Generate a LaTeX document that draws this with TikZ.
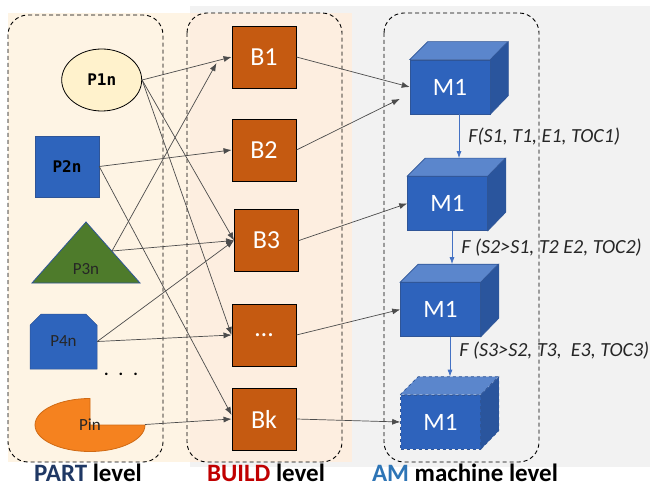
\documentclass[tikz,border=0pt]{standalone}
\usepackage{fontspec}
\setmainfont{Carlito}
\newfontfamily\monofont{DejaVu Sans Mono}
\usepackage{tikz}
\usetikzlibrary{arrows.meta,shapes.geometric,shapes.misc}
\usepackage{xcolor}
\definecolor{partbg}{HTML}{FEF4E4}
\definecolor{buildbg}{HTML}{FDEEE0}
\definecolor{ambg}{HTML}{F2F2F2}
\definecolor{ovalfill}{HTML}{FFF2CC}
\definecolor{partblue}{HTML}{2E64BC}
\definecolor{edgeblue}{HTML}{2F5597}
\definecolor{partgreen}{HTML}{4E7B2B}
\definecolor{pinfill}{HTML}{F5821F}
\definecolor{pinedge}{HTML}{D06A14}
\definecolor{buildfill}{HTML}{C55A11}
\definecolor{cubefront}{HTML}{2E63BC}
\definecolor{cubetop}{HTML}{5B86CC}
\definecolor{cubeside}{HTML}{2A559D}
\definecolor{flowblue}{HTML}{4472C4}
\definecolor{partnavy}{HTML}{1F3864}
\definecolor{buildred}{HTML}{C00000}
\definecolor{amblue}{HTML}{2E75B6}

\begin{document}
\begin{tikzpicture}[x=1pt,y=-1pt,>={Latex[length=8pt,width=6pt]},
  link/.style={draw=black!70,line width=0.7pt,->},
  levelbox/.style={draw,line width=0.9pt,dash pattern=on 4pt off 3pt,rounded corners=20pt},
  parttext/.style={text=black!85,font=\fontsize{17}{20}\selectfont},
  partbold/.style={text=black,font=\monofont\bfseries\fontsize{16}{19}\selectfont},
  buildbox/.style={draw=black,line width=0.9pt,fill=buildfill,text=white,
    minimum width=64pt,minimum height=62pt,inner sep=0pt,font=\fontsize{26}{30}\selectfont},
  machine/.style={fill=cubefront,draw=edgeblue,line width=0.6pt,text=white,
    minimum width=80pt,minimum height=54pt,inner sep=0pt,font=\fontsize{25}{28}\selectfont},
  flow/.style={draw=flowblue,line width=0.8pt,-{Latex[length=7pt,width=5pt]}},
  flowlabel/.style={right=8pt,inner sep=1pt,text=black!85,font=\fontsize{20}{24}\selectfont\itshape},
  levellabel/.style={anchor=base,font=\bfseries\fontsize{25}{30}\selectfont}]
  \useasboundingbox (0,0) rectangle (650,486);

  % backgrounds and level frames
  \fill[ambg] (190,6) rectangle (650,467);
  \fill[partbg] (8,13) rectangle (190,462);
  \fill[buildbg] (190,13) rectangle (352,462);
  \draw[levelbox] (8,15) rectangle (163,462);
  \draw[levelbox] (187,13) rectangle (342,462);
  \draw[levelbox] (384,13) rectangle (539,462);

  % parts
  \node[ellipse,draw,fill=ovalfill,line width=0.8pt,minimum width=80pt,
    minimum height=62pt,partbold] (p1) at (101.7,80) {P1n};
  \node[fill=partblue,draw=edgeblue,line width=0.5pt,minimum width=64pt,
    minimum height=61pt,partbold] (p2) at (67,166.5) {P2n};
  \filldraw[fill=partgreen,draw=edgeblue,line width=0.8pt]
        (86,222) -- (140,283) -- (32,283) -- cycle;
  \node[parttext] (p3) at (86,269) {P3n};
  \coordinate (p3e) at (112,251);
  \node[chamfered rectangle,chamfered rectangle corners={north west,north east},
    chamfered rectangle xsep=8pt,fill=partblue,draw=edgeblue,line width=0.5pt,
    minimum width=67pt,minimum height=55pt,parttext] (p4) at (63.5,341.5) {P4n};
  \node[font=\bfseries\fontsize{17}{20}\selectfont] (dots) at (121,374)
        {.\hspace{10pt}.\hspace{10pt}.};
  \filldraw[fill=pinfill,draw=pinedge,line width=0.8pt] (90,425) -- ++(0,-26.5)
        arc[start angle=270,end angle=0,x radius=55,y radius=26.5] -- cycle;
  \node[parttext] (p5) at (90,425) {Pin};
  \coordinate (p5e) at (145,424.5);

  % builds
  \foreach \n/\x/\y/\t in {b1/264/57/B1,b2/264/150/B2,b3/266.5/240.5/B3,
                            b4/264/335/{…},bk/264/419/Bk}
  \node[buildbox] (\n) at (\x,\y) {\t};

  % machines
  \foreach \n/\x/\y/\s in {m1/450/87/solid,m2/447.5/203.5/solid,
                            m3/440.5/309.5/solid,m4/440.5/422/dashed}{
    \node[machine,\s] (\n) at (\x,\y) {M1};
    \filldraw[fill=cubetop,draw=edgeblue,line width=0.6pt,\s]
        (\n.north west) -- ++(18,-18) -- ++(80,0) -- (\n.north east) -- cycle;
    \filldraw[fill=cubeside,draw=edgeblue,line width=0.6pt,\s]
        (\n.north east) -- ++(18,-18) -- ++(0,54) -- (\n.south east) -- cycle;
    \coordinate (\n top) at ([yshift=18pt]\n.north);
  }

  % part -> build
  \draw[link] (p1.east) -- (b1.west);
  \draw[link] (p1.east) -- (b3.west);
  \draw[link] (p1.east) -- (b4.west);
  \draw[link] (p2.east) -- (b2.west);
  \draw[link] (p2.east) -- ([yshift=4pt]bk.west);
  \draw[link] (p3e) -- (b3.west);
  \draw[link,shorten >=31pt] (p3e) -- ([yshift=21pt]b1.west);
  \draw[link] (p4.east) -- (b3.west);
  \draw[link] (p4.east) -- (b4.west);
  \draw[link] (p5e) -- (bk.west);

  % build -> machine
  \draw[link] (b1.east) -- (m1.west);
  \draw[link,shorten >=11pt] (b2.east) -- ([yshift=-7pt]m1.west);
  \draw[link] (b3.east) -- (m2.west);
  \draw[link] (b4.east) -- (m3.west);
  \draw[link] (bk.east) -- (m4.west);

  % machine states
  \coordinate (f1) at ([xshift=9pt]m1.south);
  \coordinate (f2) at ([xshift=4.5pt]m2.south);
  \coordinate (f3) at ([xshift=9.5pt]m3.south);
  \draw[flow] (f1) -- node[flowlabel] {F(S1, T1, E1, TOC1)} (f1 |- m2top);
  \draw[flow] (f2) -- node[flowlabel] {F (S2>S1, T2 E2, TOC2)} (f2 |- m3top);
  \draw[flow] (f3) -- node[flowlabel,pos=0.35] {F (S3>S2, T3,\ \ E3, TOC3)} (f3 |- m4top);

  %level names
  \node[levellabel] (partname) at (88,481) {\textcolor{partnavy}{PART} level};
  \node[levellabel] (buildname) at (266,481) {\textcolor{buildred}{BUILD} level};
  \node[levellabel] (amname) at (465,481) {\textcolor{amblue}{AM} machine level};
\end{tikzpicture}
\end{document}
